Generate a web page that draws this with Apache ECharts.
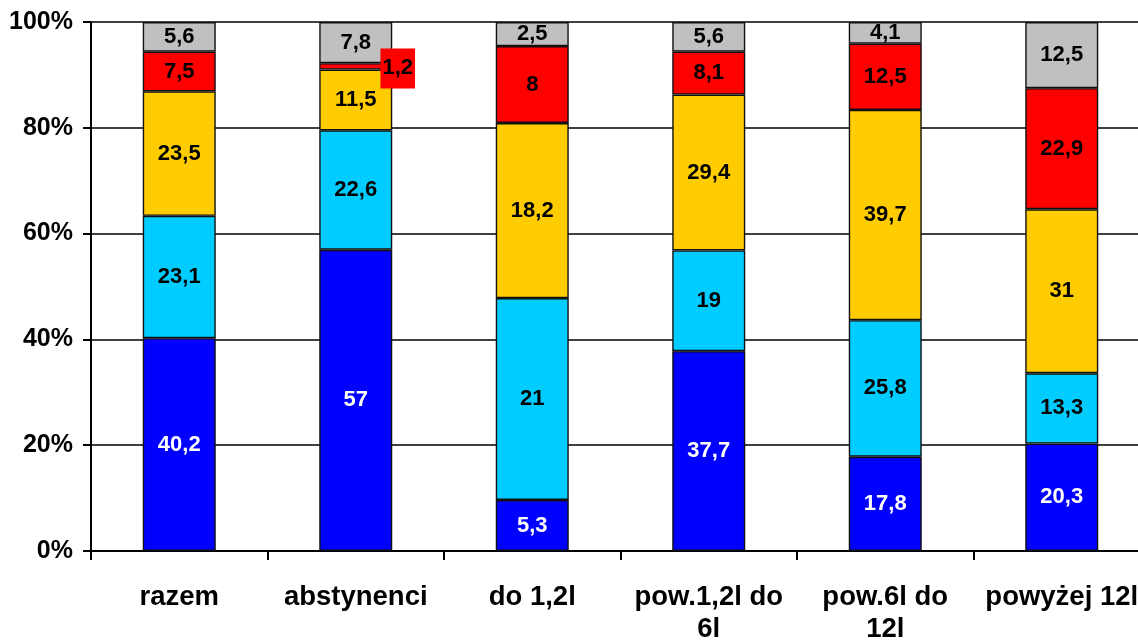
<!DOCTYPE html>
<html>
<head>
<meta charset="utf-8">
<script src="https://cdn.jsdelivr.net/npm/echarts@6/dist/echarts.min.js"></script>
<style>
  html, body { margin: 0; padding: 0; background: #fff; }
  #chart { width: 1138px; height: 641px; }
</style>
</head>
<body>
<div id="chart"></div>
<script>
// Struktura odpowiedzi w grupach (słupki 100%, etykiety = wartości surowe)
const CATEGORIES = ['razem', 'abstynenci', 'do 1,2l', 'pow.1,2l do\n6l', 'pow.6l do\n12l', 'powyżej 12l'];

const S_BLUE   = [40.2, 57, 5.3, 37.7, 17.8, 20.3];
const S_CYAN   = [23.1, 22.6, 21, 19, 25.8, 13.3];
const S_YELLOW = [23.5, 11.5, 18.2, 29.4, 39.7, 31];
const S_RED    = [7.5, 1.2, 8, 8.1, 12.5, 22.9];
const S_GRAY   = [5.6, 7.8, 2.5, 5.6, 4.1, 12.5];

const SERIES = [
  { name: 'a', values: S_BLUE,   color: '#0000ff', text: '#ffffff' },
  { name: 'b', values: S_CYAN,   color: '#00ccff', text: '#000000' },
  { name: 'c', values: S_YELLOW, color: '#ffcc00', text: '#000000' },
  { name: 'd', values: S_RED,    color: '#ff0000', text: '#000000' },
  { name: 'e', values: S_GRAY,   color: '#c0c0c0', text: '#000000' },
];

const FONT = '"Liberation Sans", Arial, sans-serif';
const fmt = v => String(v).replace('.', ',');

// sumy w kategoriach -> wysokość słupka w % (Excel: wykres 100% skumulowany)
const totals = CATEGORIES.map((_, i) => SERIES.reduce((s, se) => s + se.values[i], 0));

const chart = echarts.init(document.getElementById('chart'));

chart.setOption({
  backgroundColor: '#fff',
  animation: false,
  // ostatnia kategoria wychodzi poza prawą krawędź, jak w oryginale
  grid: { left: 91, top: 22, right: -12, bottom: 90, containLabel: false, outerBoundsMode: 'none' },
  xAxis: {
    type: 'category',
    data: CATEGORIES,
    axisLine: { lineStyle: { color: '#000', width: 2 } },
    axisTick: { show: true, length: 9, lineStyle: { color: '#000', width: 2 } },
    axisLabel: {
      interval: 0, margin: 30, color: '#000',
      fontFamily: FONT, fontWeight: 'bold', fontSize: 27.5, lineHeight: 32,
    },
  },
  yAxis: {
    type: 'value', min: 0, max: 100, interval: 20,
    axisLine: { show: true, lineStyle: { color: '#000', width: 2 } },
    axisTick: { show: true, length: 8, lineStyle: { color: '#000', width: 2 } },
    splitLine: { lineStyle: { color: '#000', width: 1.6 } },
    axisLabel: {
      formatter: '{value}%', margin: 18, color: '#000',
      fontFamily: FONT, fontWeight: 'bold', fontSize: 25,
    },
  },
  series: SERIES.map(se => ({
    name: se.name,
    type: 'bar',
    stack: 'all',
    barWidth: 73,
    itemStyle: { color: se.color, borderColor: '#111', borderWidth: 1.4 },
    label: {
      show: true, position: 'inside', color: se.text,
      fontFamily: FONT, fontWeight: 'bold', fontSize: 22,
      formatter: p => fmt(se.values[p.dataIndex]),
    },
    data: se.values.map((v, i) => {
      const item = { value: v / totals[i] * 100 };
      // mała wartość 1,2 – etykieta przesunięta obok słupka, na czerwonym tle
      if (se.name === 'd' && v < 2) {
        item.label = { offset: [42, 2], backgroundColor: '#ff0000', padding: [10, 2, 8, 2] };
      }
      return item;
    }),
  })),
});
</script>
</body>
</html>
